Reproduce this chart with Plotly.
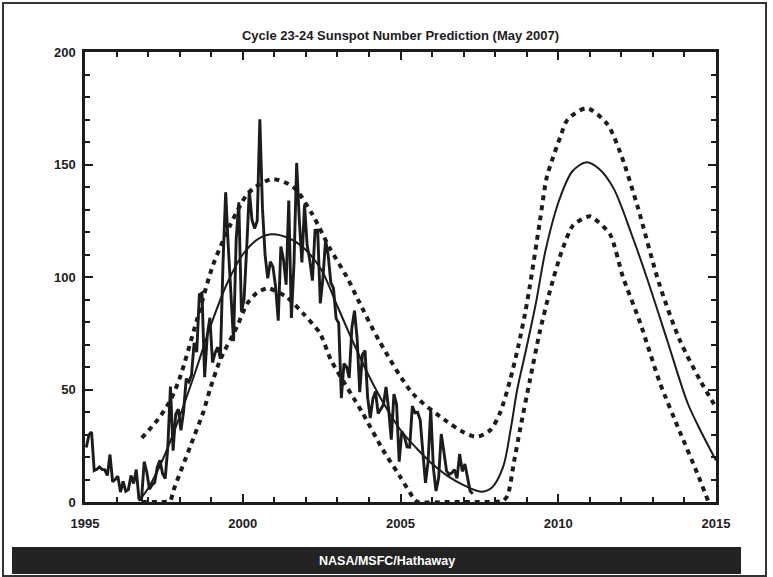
import plotly.graph_objects as go

# ---------------- data ----------------
# Monthly sunspot numbers, Jan 1995 - Apr 2007
monthly_start = 1995.0
monthly_vals = [
    24.2, 29.9, 31.1, 14.0, 14.5, 15.6, 14.5, 14.3, 11.8, 21.1, 9.0, 10.0,      # 1995
    11.5, 4.4, 9.2, 4.8, 5.5, 11.8, 8.2, 14.4, 1.6, 0.9, 17.9, 13.3,           # 1996
    5.7, 7.6, 8.7, 15.5, 18.5, 12.7, 10.4, 24.4, 51.3, 22.8, 39.0, 41.2,       # 1997
    31.9, 40.3, 54.8, 53.4, 56.3, 70.7, 66.6, 92.2, 92.9, 55.5, 74.0, 81.9,    # 1998
    62.0, 66.3, 68.8, 63.7, 106.4, 137.7, 113.5, 93.7, 71.5, 116.7, 133.2, 84.6,  # 1999
    90.1, 112.9, 138.5, 125.5, 121.6, 124.9, 170.1, 130.5, 109.7, 99.4, 106.8, 104.4,  # 2000
    95.6, 80.6, 113.5, 107.7, 96.6, 134.0, 81.8, 106.4, 150.7, 125.5, 106.5, 132.2,  # 2001
    114.1, 107.4, 98.4, 120.7, 120.8, 88.3, 99.6, 116.4, 109.6, 97.5, 95.0, 81.6,  # 2002
    79.5, 46.2, 61.5, 60.0, 55.2, 77.4, 85.0, 72.7, 48.8, 65.5, 67.3, 46.5,    # 2003
    37.3, 45.8, 49.1, 39.3, 41.5, 43.2, 51.1, 40.9, 27.7, 48.0, 43.5, 17.9,    # 2004
    31.3, 29.2, 24.5, 24.4, 42.6, 39.6, 39.9, 36.4, 22.1, 8.5, 18.0, 41.2,     # 2005
    15.3, 4.9, 10.6, 30.2, 22.3, 13.9, 12.2, 12.9, 14.4, 10.5, 21.4, 13.6,     # 2006
    16.9, 10.6, 4.8, 3.7,                                                     # 2007
]
monthly_years = [monthly_start + (i + 0.5) / 12 for i in range(len(monthly_vals))]

# Fitted cycle 23 curve + cycle 24 prediction (solid)
fit_years = [1996.7, 1997.0, 1997.5, 1998.0, 1998.5, 1999.0, 1999.5, 2000.0, 2000.5,
             2000.9, 2001.5, 2002.0, 2002.5, 2003.0, 2003.5, 2004.0, 2004.5, 2005.0,
             2005.5, 2006.0, 2006.5, 2007.0, 2007.55, 2007.9, 2008.25, 2008.5, 2008.7,
             2009.0, 2009.3, 2009.6, 2010.05, 2010.45, 2010.9, 2011.3, 2011.75, 2012.35,
             2012.8, 2013.45, 2014.1, 2014.5, 2015.0]
fit_vals = [0.5, 6, 20, 38, 58, 79, 97, 110, 117,
            119, 117, 112, 103, 87, 71, 56, 43, 32,
            24, 17, 11.5, 7.5, 4.6, 6.5, 15.5, 33, 50,
            69, 89, 112, 135, 147, 151, 148, 139.5, 118,
            100, 72, 44, 32, 18.5]

# Upper bound (dashed)
upper_years = [1996.8, 1997.3, 1997.7, 1998.0, 1998.55, 1999.05, 1999.6, 2000.1, 2000.4,
               2000.95, 2001.6, 2002.2, 2002.75, 2003.3, 2003.65, 2004.35, 2005.4, 2006.45,
               2007.0, 2007.42, 2007.85, 2008.15, 2008.47, 2008.73, 2008.95, 2009.1, 2009.42,
               2009.63, 2009.83, 2010.06, 2010.3, 2010.9, 2011.55, 2011.96, 2012.5, 2013.2,
               2013.85, 2014.5, 2015.0]
upper_vals = [28.5, 36.5, 45, 55, 81, 105, 123, 136, 140,
              143.5, 140, 128, 113, 100, 90, 71, 48, 36,
              31, 29, 32, 39.5, 54, 69, 84, 96, 125,
              144, 153, 162, 170, 175, 168, 155.5, 132, 97,
              72, 54, 42]

# Lower bound (dashed)
lower_years = [1996.8, 1997.3, 1997.7, 1997.8, 1998.33, 1998.75, 1998.96, 1999.28, 1999.82,
               2000.13, 2000.45, 2000.8, 2001.4, 2001.9, 2002.45, 2002.8, 2003.8, 2004.45,
               2005.0, 2005.4, 2005.55, 2006.5, 2007.5, 2008.25, 2008.4, 2008.6, 2008.8,
               2009.1, 2009.42, 2009.74, 2010.1, 2010.47, 2011.0, 2011.64, 2012.05, 2012.6,
               2013.22, 2013.86, 2014.4, 2014.75]
lower_vals = [0, 0, 0.5, 5, 24.5, 40, 50, 63, 78,
              88, 93, 95, 91, 84, 75, 63, 39.5, 23,
              11, 2, 0, 0, 0, 0.5, 3, 18, 33,
              54, 76, 94, 111, 123, 127, 119, 100, 79.5,
              53, 31, 13, 0.5]

title_text = "Cycle 23-24 Sunspot Number Prediction (May 2007)"
credit_text = "NASA/MSFC/Hathaway"
x_ticks = [1995, 2000, 2005, 2010, 2015]
y_ticks = [0, 50, 100, 150, 200]

# ---------------- figure ----------------
FONT = "Liberation Sans Narrow, Arial Narrow, Liberation Sans, Arial, sans-serif"
INK = "#1c1c1c"

fig = go.Figure()
fig.add_trace(go.Scatter(x=upper_years, y=upper_vals, mode="lines", hoverinfo="skip",
                         line=dict(color=INK, width=4, dash="5px,5px", shape="spline", smoothing=0.8)))
fig.add_trace(go.Scatter(x=lower_years, y=lower_vals, mode="lines", hoverinfo="skip",
                         line=dict(color=INK, width=4, dash="5px,5px", shape="spline", smoothing=0.6)))
fig.add_trace(go.Scatter(x=monthly_years, y=monthly_vals, mode="lines", hoverinfo="skip",
                         line=dict(color=INK, width=2.9)))
fig.add_trace(go.Scatter(x=fit_years, y=fit_vals, mode="lines", hoverinfo="skip",
                         line=dict(color=INK, width=2, shape="spline", smoothing=0.9)))

L, R, T, B = 85, 716, 52, 502
W, H = 773, 577
pw, ph = R - L, B - T

def px(x):
    return (x - L) / pw

def py(y):
    return (B - y) / ph

axis_common = dict(showgrid=False, zeroline=False, showline=True, linecolor=INK, linewidth=2.5,
                   mirror="ticks", ticks="inside", tickcolor=INK, tickwidth=2,
                   tickfont=dict(family=FONT, size=13, color=INK))

fig.update_layout(
    width=W, height=H,
    margin=dict(l=L, r=W - R, t=T, b=H - B, pad=0),
    paper_bgcolor="white", plot_bgcolor="white",
    showlegend=False,
    hovermode=False,
    font=dict(family=FONT, color=INK),
    title=dict(text="<b>" + title_text + "</b>", x=400.5 / W, xanchor="center",
               y=1 - 35 / H, yanchor="middle", font=dict(family=FONT, size=13, color=INK)),
    xaxis=dict(range=[1995, 2015], tickvals=x_ticks, ticktext=[f"<b>{v}</b>" for v in x_ticks],
               ticklen=8, minor=dict(dtick=1, ticklen=5, ticks="inside", tickcolor=INK, tickwidth=2),
               ticklabelstandoff=8, **axis_common),
    yaxis=dict(range=[0, 200], tickvals=y_ticks, ticktext=[f"<b>{v}</b>" for v in y_ticks],
               ticklen=8, minor=dict(dtick=10, ticklen=5, ticks="inside", tickcolor=INK, tickwidth=2),
               ticklabelstandoff=4, **axis_common),
    shapes=[
        dict(type="rect", xref="paper", yref="paper", x0=px(3), x1=px(766), y0=py(576), y1=py(3),
             line=dict(color="#333333", width=2), fillcolor="rgba(0,0,0,0)", layer="below"),
        dict(type="rect", xref="paper", yref="paper", x0=px(12), x1=px(741), y0=py(574), y1=py(547),
             line=dict(width=0), fillcolor="#232323", layer="above"),
    ],
    annotations=[
        dict(text="<b>" + credit_text + "</b>", xref="paper", yref="paper", x=px(387), y=py(561),
             xanchor="center", yanchor="middle", showarrow=False,
             font=dict(family=FONT, size=12.5, color="white")),
    ],
)

fig.write_html("out.html", config={"displayModeBar": False},
               post_script="document.body.style.margin='0px';")
